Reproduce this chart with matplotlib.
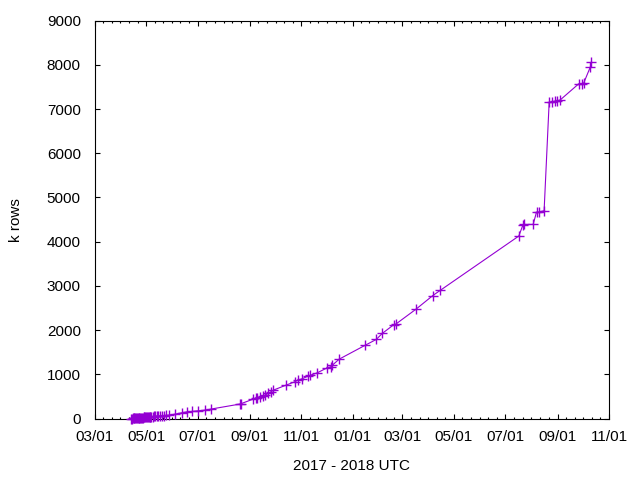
import matplotlib
matplotlib.use("Agg")
import matplotlib.pyplot as plt
import matplotlib.dates as mdates
import numpy as np
import datetime as dt

dates = [
    "2017-04-13", "2017-04-14", "2017-04-15", "2017-04-16", "2017-04-17",
    "2017-04-18", "2017-04-19", "2017-04-20", "2017-04-21", "2017-04-22",
    "2017-04-23", "2017-04-24", "2017-04-25", "2017-04-26", "2017-04-27",
    "2017-04-28", "2017-04-29", "2017-04-30", "2017-05-01", "2017-05-02",
    "2017-05-03", "2017-05-04", "2017-05-05", "2017-05-06", "2017-05-07",
    "2017-05-09", "2017-05-10", "2017-05-12", "2017-05-14", "2017-05-15",
    "2017-05-17", "2017-05-20", "2017-05-22", "2017-05-25", "2017-05-28",
    "2017-06-04", "2017-06-12", "2017-06-19", "2017-06-24", "2017-07-02",
    "2017-07-10", "2017-07-17", "2017-08-20", "2017-08-22",
    "2017-09-05", "2017-09-08", "2017-09-10", "2017-09-13", "2017-09-16",
    "2017-09-19", "2017-09-23", "2017-09-26", "2017-09-29",
    "2017-10-14", "2017-10-24", "2017-10-28", "2017-11-02", "2017-11-09",
    "2017-11-11", "2017-11-20", "2017-12-02", "2017-12-06", "2017-12-08",
    "2017-12-16", "2018-01-16", "2018-01-29", "2018-02-05", "2018-02-19",
    "2018-02-21", "2018-03-17", "2018-04-06", "2018-04-15",
    "2018-07-17", "2018-07-22", "2018-07-23", "2018-08-03", "2018-08-07",
    "2018-08-10", "2018-08-16", "2018-08-22", "2018-08-25", "2018-08-29",
    "2018-08-31", "2018-09-04", "2018-09-26", "2018-09-30", "2018-10-02",
    "2018-10-10", "2018-10-11",
]
k_rows = [
    0, 1, 2, 3, 5,
    6, 8, 10, 11, 13,
    14, 16, 18, 20, 22,
    24, 26, 28, 30, 32,
    34, 36, 38, 40, 42,
    45, 47, 50, 53, 55,
    58, 62, 66, 72, 78,
    100, 130, 155, 160, 176,
    192, 215, 327, 340,
    440, 463, 470, 492, 508,
    531, 569, 605, 644,
    756, 830, 870, 900, 960,
    975, 1035, 1150, 1170, 1210,
    1344, 1660, 1790, 1925, 2127,
    2135, 2473, 2782, 2902,
    4128, 4385, 4390, 4390, 4670,
    4675, 4700, 7155, 7160, 7180,
    7185, 7205, 7570, 7575, 7590,
    7960, 8060,
]
x_start = "2017-03-01"
x_end = "2018-11-01"

x = [dt.datetime.strptime(d, "%Y-%m-%d") for d in dates]

plt.rcParams['font.family'] = ['Liberation Sans', 'DejaVu Sans']
plt.rcParams['font.size'] = 11

fig = plt.figure(figsize=(6.4, 4.8), dpi=100)
ax = fig.add_axes([0.148, 0.128, 0.8036, 0.829])

ax.plot(x, k_rows, color='#9400D3', lw=0.8, marker='+', markersize=7,
        markeredgewidth=1.0, clip_on=False, zorder=3)

ax.set_xlim(dt.datetime.strptime(x_start, "%Y-%m-%d"),
            dt.datetime.strptime(x_end, "%Y-%m-%d"))
ax.set_ylim(0, 9000)
ax.set_yticks(np.arange(0, 9001, 1000))

ax.xaxis.set_major_locator(mdates.MonthLocator(bymonth=[1, 3, 5, 7, 9, 11]))
ax.xaxis.set_major_formatter(mdates.DateFormatter('%m/%d'))
majors = ax.get_xticks()
minors = []
for a, b in zip(majors[:-1], majors[1:]):
    minors.extend(np.linspace(a, b, 7)[1:-1])
ax.set_xticks(minors, minor=True)

for s in ax.spines.values():
    s.set_linewidth(0.8)
ax.tick_params(which='both', direction='in', top=True, right=True, width=0.8)
ax.tick_params(which='major', length=3.5)
ax.tick_params(which='minor', length=1.7)
ax.tick_params(axis='y', pad=10)
ax.tick_params(axis='x', pad=8)

ax.set_ylabel('k rows', va='center', ha='center')
ax.yaxis.set_label_coords(-0.154, 0.5)
ax.set_xlabel('2017 - 2018 UTC', va='center', ha='center')
ax.xaxis.set_label_coords(0.5, -0.119)

fig.savefig('out.png', dpi=100)
